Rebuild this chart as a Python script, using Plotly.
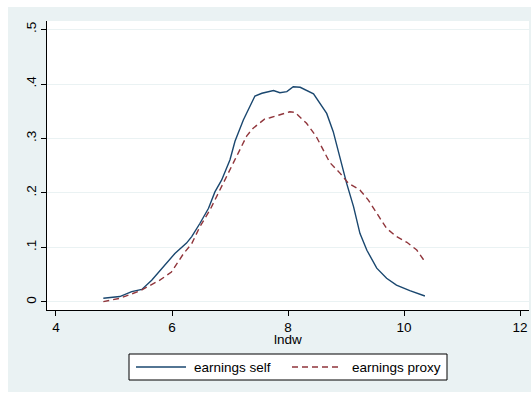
import plotly.graph_objects as go

# Kernel density estimates of log earnings (lndw)
self_x = [4.816, 5.10, 5.305, 5.48, 5.65, 5.85, 6.05, 6.25, 6.34, 6.48, 6.63, 6.74,
          6.857, 7.0, 7.086, 7.23, 7.345, 7.43, 7.55, 7.75, 7.86, 7.98, 8.09, 8.21,
          8.44, 8.667, 8.78, 8.90, 9.01, 9.13, 9.24, 9.36, 9.53, 9.70, 9.87, 10.10, 10.36]
self_y = [0.0068, 0.010, 0.019, 0.023, 0.040, 0.065, 0.089, 0.108, 0.120, 0.144, 0.172, 0.202,
          0.224, 0.261, 0.295, 0.334, 0.361, 0.378, 0.383, 0.388, 0.384, 0.386, 0.395, 0.394,
          0.382, 0.346, 0.3125, 0.261, 0.218, 0.175, 0.126, 0.095, 0.062, 0.0435, 0.031, 0.0208, 0.011]

proxy_x = [4.816, 5.10, 5.44, 5.68, 5.79, 5.99, 6.20, 6.34, 6.48, 6.655, 6.80, 6.94,
           7.115, 7.29, 7.40, 7.60, 7.69, 7.86, 8.03, 8.12, 8.32, 8.49, 8.72, 8.90,
           9.04, 9.24, 9.385, 9.53, 9.70, 9.87, 10.05, 10.22, 10.36]
proxy_y = [0.0006, 0.0068, 0.020, 0.033, 0.040, 0.055, 0.089, 0.107, 0.138, 0.169, 0.1994, 0.230,
           0.267, 0.305, 0.319, 0.336, 0.338, 0.343, 0.349, 0.348, 0.328, 0.303, 0.256, 0.236,
           0.218, 0.2055, 0.187, 0.163, 0.135, 0.120, 0.1095, 0.0954, 0.074]

x_ticks = [4, 6, 8, 10, 12]
y_ticks = [0, 0.1, 0.2, 0.3, 0.4, 0.5]
y_tick_text = ["0", ".1", ".2", ".3", ".4", ".5"]

series_names = ["earnings self", "earnings proxy"]
title_text = "Log earnings: self vs. proxy"
x_title = "lndw"

NAVY = "#1A476F"
MAROON = "#90353B"
BG = "#EAF2F3"
FONT = "Liberation Sans, Arial, sans-serif"

W, H = 531, 394
ML, MR, MT, MB = 47, 2, 21, 84
PW = W - ML - MR
PH = H - MT - MB


def px(x):
    return (x - ML) / PW


def py(y):
    return (H - MB - y) / PH


fig = go.Figure()
fig.add_trace(go.Scatter(x=self_x, y=self_y, mode="lines", name=series_names[0],
                         line=dict(color=NAVY, width=1.4), showlegend=False))
fig.add_trace(go.Scatter(x=proxy_x, y=proxy_y, mode="lines", name=series_names[1],
                         line=dict(color=MAROON, width=1.4, dash="6px,4px"), showlegend=False))

shapes = [
    # white border strips outside the graph region
    dict(type="rect", xref="paper", yref="paper", x0=px(0), x1=px(8), y0=py(H), y1=py(0),
         fillcolor="white", line_width=0, layer="below"),
    dict(type="rect", xref="paper", yref="paper", x0=px(0), x1=px(W), y0=py(7), y1=py(0),
         fillcolor="white", line_width=0, layer="below"),
    dict(type="rect", xref="paper", yref="paper", x0=px(0), x1=px(W), y0=py(H), y1=py(392),
         fillcolor="white", line_width=0, layer="below"),
    # legend box
    dict(type="rect", xref="paper", yref="paper", x0=px(129), x1=px(447), y0=py(380), y1=py(354),
         fillcolor="white", line=dict(color="black", width=1)),
    dict(type="line", xref="paper", yref="paper", x0=px(136), x1=px(186), y0=py(367), y1=py(367),
         line=dict(color=NAVY, width=1.4)),
    dict(type="line", xref="paper", yref="paper", x0=px(292), x1=px(342), y0=py(367), y1=py(367),
         line=dict(color=MAROON, width=1.4, dash="6px,4px")),
]

annotations = [
    dict(text=title_text, xref="paper", yref="paper", x=px(295), y=py(-2.5),
         xanchor="center", yanchor="bottom", showarrow=False,
         font=dict(family=FONT, size=20, color="black")),
    dict(text=x_title, xref="paper", yref="paper", x=px(288), y=py(339),
         xanchor="center", yanchor="middle", showarrow=False,
         font=dict(family=FONT, size=13.5, color="black")),
    dict(text=series_names[0], xref="paper", yref="paper", x=px(192), y=py(367),
         xanchor="left", yanchor="middle", showarrow=False,
         font=dict(family=FONT, size=13.5, color="black")),
    dict(text=series_names[1], xref="paper", yref="paper", x=px(350), y=py(367),
         xanchor="left", yanchor="middle", showarrow=False,
         font=dict(family=FONT, size=13.5, color="black")),
]

fig.update_layout(
    width=W, height=H,
    margin=dict(l=ML, r=MR, t=MT, b=MB, pad=0),
    paper_bgcolor=BG, plot_bgcolor="white",
    font=dict(family=FONT, size=13.5, color="black"),
    shapes=shapes, annotations=annotations,
    xaxis=dict(range=[3.845, 12.155], tickvals=x_ticks, ticks="outside", ticklen=5,
               tickcolor="black", showline=True, linecolor="black", linewidth=1,
               showgrid=False, zeroline=False, fixedrange=True),
    yaxis=dict(range=[-0.0147, 0.5156], tickvals=y_ticks, ticktext=y_tick_text,
               tickangle=-90, ticks="outside", ticklen=5, tickcolor="black",
               showline=True, linecolor="black", linewidth=1,
               showgrid=True, gridcolor=BG, gridwidth=1, zeroline=False, fixedrange=True),
)

fig.write_html("out.html", config={"displayModeBar": False})
